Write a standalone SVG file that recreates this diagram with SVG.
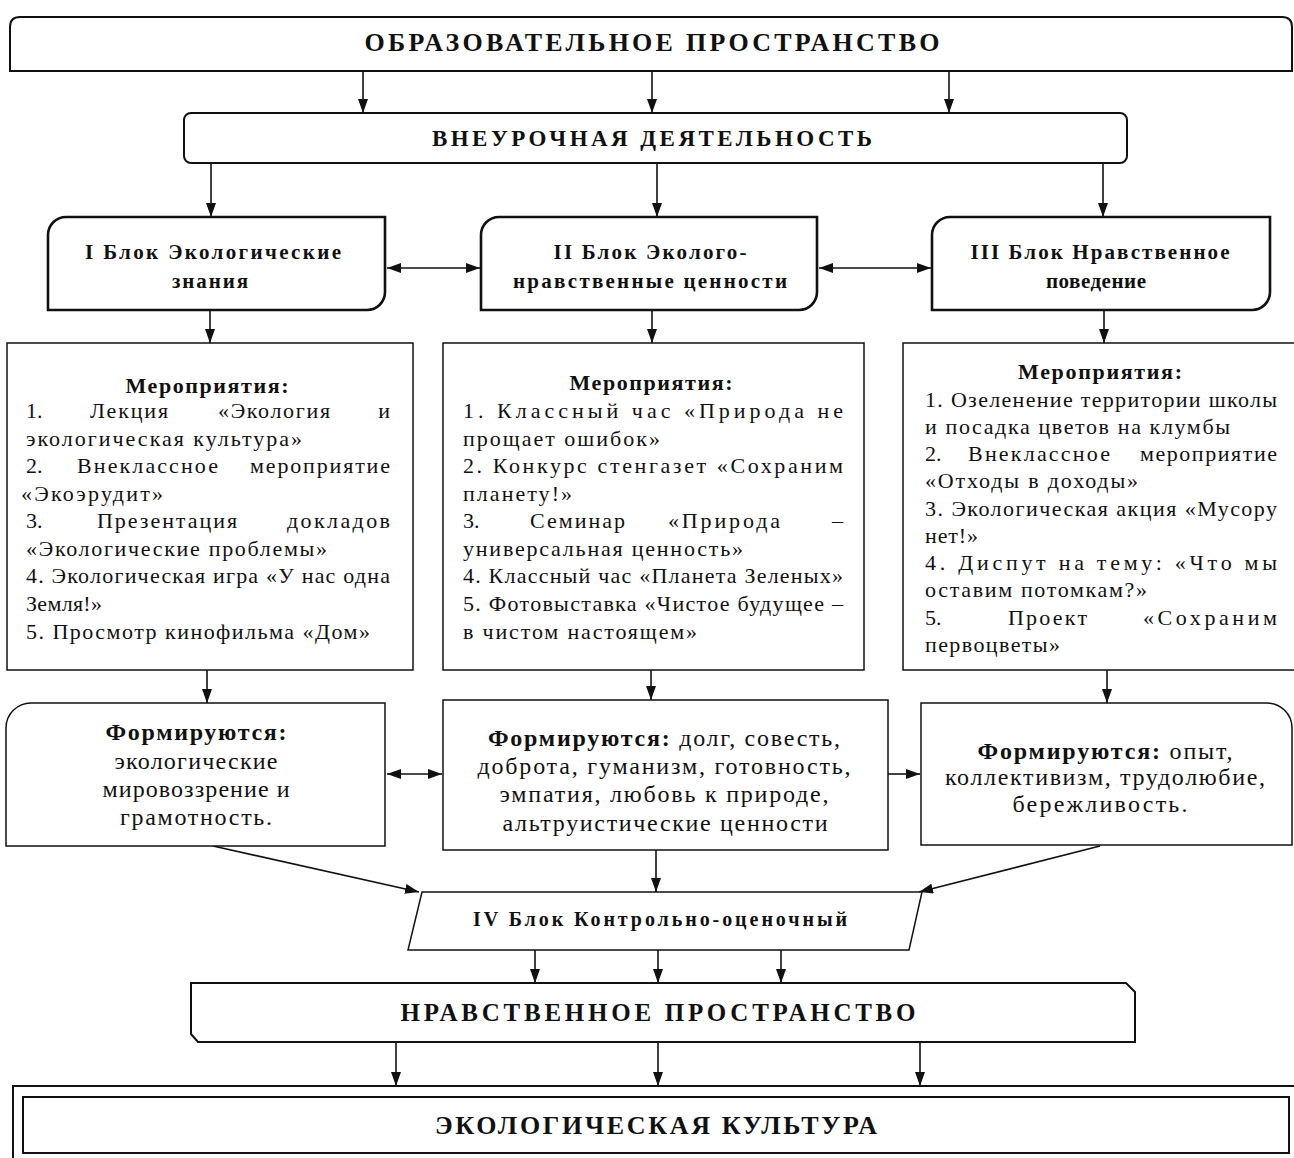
<svg xmlns="http://www.w3.org/2000/svg" width="1294" height="1158" viewBox="0 0 1294 1158">
<style>
  .bg{fill:#fff}
  .box{fill:#fff;stroke:#111;stroke-width:2}
  .thin{fill:#fff;stroke:#111;stroke-width:1.5}
  .thick{fill:#fff;stroke:#111;stroke-width:2.6}
  .con{fill:none;stroke:#111;stroke-width:1.6}
  .h{font-family:"Liberation Serif","Times New Roman",serif;font-weight:bold;fill:#111}
  .t{font-family:"Liberation Serif","Times New Roman",serif;fill:#111;font-size:22px}
  .tb{font-family:"Liberation Serif","Times New Roman",serif;fill:#111;font-size:22px;font-weight:bold}
  .f{font-family:"Liberation Serif","Times New Roman",serif;fill:#111;font-size:24px}
</style>
<defs>
  <marker id="ah" markerUnits="userSpaceOnUse" markerWidth="14" markerHeight="10" refX="14" refY="5" orient="auto-start-reverse">
    <path d="M0,0 L14,5 L0,10 Z" fill="#111"/>
  </marker>
</defs>
<rect class="bg" x="0" y="0" width="1294" height="1158"/>

<g id="connectors">
  <line class="con" x1="363" y1="71" x2="363" y2="113" marker-end="url(#ah)"/>
  <line class="con" x1="652" y1="71" x2="652" y2="113" marker-end="url(#ah)"/>
  <line class="con" x1="949" y1="71" x2="949" y2="113" marker-end="url(#ah)"/>
  <line class="con" x1="211" y1="163" x2="211" y2="217" marker-end="url(#ah)"/>
  <line class="con" x1="657" y1="163" x2="657" y2="217" marker-end="url(#ah)"/>
  <line class="con" x1="1103" y1="163" x2="1103" y2="217" marker-end="url(#ah)"/>
  <line class="con" x1="387" y1="268" x2="480" y2="268" marker-start="url(#ah)" marker-end="url(#ah)"/>
  <line class="con" x1="819" y1="268" x2="931" y2="268" marker-start="url(#ah)" marker-end="url(#ah)"/>
  <line class="con" x1="210" y1="311" x2="210" y2="343" marker-end="url(#ah)"/>
  <line class="con" x1="652" y1="311" x2="652" y2="343" marker-end="url(#ah)"/>
  <line class="con" x1="1104" y1="311" x2="1104" y2="343" marker-end="url(#ah)"/>
  <line class="con" x1="207" y1="670" x2="207" y2="703" marker-end="url(#ah)"/>
  <line class="con" x1="651" y1="670" x2="651" y2="700" marker-end="url(#ah)"/>
  <line class="con" x1="1107" y1="670" x2="1107" y2="703" marker-end="url(#ah)"/>
  <line class="con" x1="387" y1="774" x2="442" y2="774" marker-start="url(#ah)" marker-end="url(#ah)"/>
  <line class="con" x1="888" y1="774" x2="920" y2="774" marker-end="url(#ah)"/>
  <line class="con" x1="213" y1="846" x2="419" y2="892" marker-end="url(#ah)"/>
  <line class="con" x1="656" y1="850" x2="656" y2="892" marker-end="url(#ah)"/>
  <line class="con" x1="1100" y1="846" x2="919" y2="892" marker-end="url(#ah)"/>
  <line class="con" x1="535" y1="950" x2="535" y2="983" marker-end="url(#ah)"/>
  <line class="con" x1="658" y1="950" x2="658" y2="983" marker-end="url(#ah)"/>
  <line class="con" x1="781" y1="950" x2="781" y2="983" marker-end="url(#ah)"/>
  <line class="con" x1="396" y1="1042" x2="396" y2="1086" marker-end="url(#ah)"/>
  <line class="con" x1="658" y1="1042" x2="658" y2="1086" marker-end="url(#ah)"/>
  <line class="con" x1="920" y1="1042" x2="920" y2="1086" marker-end="url(#ah)"/>
</g>

<g id="obraz">
  <path class="box" d="M10,71 V27 Q10,17 20,17 H1282 Q1292,17 1292,27 V71 Z"/>
  <text class="h" x="652" y="51" font-size="26" text-anchor="middle" textLength="575" lengthAdjust="spacing">ОБРАЗОВАТЕЛЬНОЕ  ПРОСТРАНСТВО</text>
</g>

<g id="vneur">
  <rect class="box" x="184" y="113" width="943" height="50" rx="7"/>
  <text class="h" x="652" y="146" font-size="23" text-anchor="middle" textLength="440" lengthAdjust="spacing">ВНЕУРОЧНАЯ ДЕЯТЕЛЬНОСТЬ</text>
</g>

<g id="block1">
  <path class="thick" d="M48,310 V235 A18,18 0 0 1 66,217 H385 V292 A18,18 0 0 1 367,310 Z"/>
  <text class="h" x="213" y="259" font-size="21" text-anchor="middle" textLength="256" lengthAdjust="spacing">I Блок Экологические</text>
  <text class="h" x="210" y="288" font-size="21" text-anchor="middle" textLength="76" lengthAdjust="spacing">знания</text>
</g>
<g id="block2">
  <path class="thick" d="M481,310 V235 A18,18 0 0 1 499,217 H817 V292 A18,18 0 0 1 799,310 Z"/>
  <text class="h" x="650" y="259" font-size="21" text-anchor="middle" textLength="193" lengthAdjust="spacing">II Блок Эколого-</text>
  <text class="h" x="650" y="288" font-size="21" text-anchor="middle" textLength="274" lengthAdjust="spacing">нравственные ценности</text>
</g>
<g id="block3">
  <path class="thick" d="M932,310 V235 A18,18 0 0 1 950,217 H1270 V292 A18,18 0 0 1 1252,310 Z"/>
  <text class="h" x="1100" y="259" font-size="21" text-anchor="middle" textLength="259" lengthAdjust="spacing">III Блок Нравственное</text>
  <text class="h" x="1096" y="288" font-size="21" text-anchor="middle" textLength="100" lengthAdjust="spacing">поведение</text>
</g>

<g id="events1">
  <rect class="thin" x="7" y="343" width="406" height="327"/>
  <text class="tb" x="207" y="393" text-anchor="middle" textLength="163" lengthAdjust="spacing">Мероприятия:</text>
  <text class="t" x="26" y="418">1.</text>
  <text class="t" x="90" y="418" textLength="78" lengthAdjust="spacing">Лекция</text>
  <text class="t" x="218" y="418" textLength="112" lengthAdjust="spacing">«Экология</text>
  <text class="t" x="390" y="418" text-anchor="end">и</text>
  <text class="t" x="26" y="446" textLength="276" lengthAdjust="spacing">экологическая культура»</text>
  <text class="t" x="26" y="473">2.</text>
  <text class="t" x="77" y="473" textLength="141" lengthAdjust="spacing">Внеклассное</text>
  <text class="t" x="250" y="473" textLength="140" lengthAdjust="spacing">мероприятие</text>
  <text class="t" x="21" y="501" textLength="142" lengthAdjust="spacing">«Экоэрудит»</text>
  <text class="t" x="26" y="528">3.</text>
  <text class="t" x="97" y="528" textLength="140" lengthAdjust="spacing">Презентация</text>
  <text class="t" x="287" y="528" textLength="103" lengthAdjust="spacing">докладов</text>
  <text class="t" x="26" y="556" textLength="301" lengthAdjust="spacing">«Экологические проблемы»</text>
  <text class="t" x="26" y="583" textLength="364" lengthAdjust="spacing">4. Экологическая игра «У нас одна</text>
  <text class="t" x="26" y="611" textLength="76" lengthAdjust="spacing">Земля!»</text>
  <text class="t" x="26" y="639" textLength="344" lengthAdjust="spacing">5. Просмотр кинофильма «Дом»</text>
</g>

<g id="events2">
  <rect class="thin" x="443" y="343" width="421" height="327"/>
  <text class="tb" x="651" y="390" text-anchor="middle" textLength="163" lengthAdjust="spacing">Мероприятия:</text>
  <text class="t" x="463" y="418" textLength="380" lengthAdjust="spacing">1. Классный час «Природа не</text>
  <text class="t" x="463" y="446" textLength="197" lengthAdjust="spacing">прощает ошибок»</text>
  <text class="t" x="463" y="473" textLength="380" lengthAdjust="spacing">2. Конкурс стенгазет «Сохраним</text>
  <text class="t" x="463" y="501" textLength="109" lengthAdjust="spacing">планету!»</text>
  <text class="t" x="463" y="528">3.</text>
  <text class="t" x="530" y="528" textLength="95" lengthAdjust="spacing">Семинар</text>
  <text class="t" x="668" y="528" textLength="112" lengthAdjust="spacing">«Природа</text>
  <text class="t" x="843" y="528" text-anchor="end">–</text>
  <text class="t" x="463" y="556" textLength="280" lengthAdjust="spacing">универсальная ценность»</text>
  <text class="t" x="463" y="583" textLength="380" lengthAdjust="spacing">4. Классный час «Планета Зеленых»</text>
  <text class="t" x="463" y="611" textLength="380" lengthAdjust="spacing">5. Фотовыставка «Чистое будущее –</text>
  <text class="t" x="463" y="639" textLength="234" lengthAdjust="spacing">в чистом настоящем»</text>
</g>

<g id="events3">
  <rect class="thin" x="903" y="343" width="395" height="327"/>
  <text class="tb" x="1100" y="379" text-anchor="middle" textLength="164" lengthAdjust="spacing">Мероприятия:</text>
  <text class="t" x="925" y="407" textLength="352" lengthAdjust="spacing">1. Озеленение территории школы</text>
  <text class="t" x="925" y="434" textLength="305" lengthAdjust="spacing">и посадка цветов на клумбы</text>
  <text class="t" x="925" y="461">2.</text>
  <text class="t" x="968" y="461" textLength="142" lengthAdjust="spacing">Внеклассное</text>
  <text class="t" x="1140" y="461" textLength="137" lengthAdjust="spacing">мероприятие</text>
  <text class="t" x="925" y="488" textLength="213" lengthAdjust="spacing">«Отходы в доходы»</text>
  <text class="t" x="925" y="516" textLength="352" lengthAdjust="spacing">3. Экологическая акция «Мусору</text>
  <text class="t" x="925" y="543" textLength="53" lengthAdjust="spacing">нет!»</text>
  <text class="t" x="925" y="570" textLength="352" lengthAdjust="spacing">4. Диспут на тему: «Что мы</text>
  <text class="t" x="925" y="597" textLength="222" lengthAdjust="spacing">оставим потомкам?»</text>
  <text class="t" x="925" y="625">5.</text>
  <text class="t" x="1008" y="625" textLength="79" lengthAdjust="spacing">Проект</text>
  <text class="t" x="1143" y="625" textLength="134" lengthAdjust="spacing">«Сохраним</text>
  <text class="t" x="925" y="652" textLength="135" lengthAdjust="spacing">первоцветы»</text>
</g>

<g id="form1">
  <path class="thin" d="M6,846 V728 A25,25 0 0 1 31,703 H385 V846 Z"/>
  <text class="f" x="196" y="740" text-anchor="middle" font-weight="bold" textLength="181" lengthAdjust="spacing">Формируются:</text>
  <text class="f" x="196" y="769" text-anchor="middle" textLength="163" lengthAdjust="spacing">экологические</text>
  <text class="f" x="196" y="797" text-anchor="middle" textLength="187" lengthAdjust="spacing">мировоззрение и</text>
  <text class="f" x="196" y="825" text-anchor="middle" textLength="152" lengthAdjust="spacing">грамотность.</text>
</g>

<g id="form2">
  <rect class="thin" x="443" y="700" width="445" height="150"/>
  <text class="f" x="664" y="746" text-anchor="middle" textLength="352" lengthAdjust="spacing"><tspan font-weight="bold">Формируются:</tspan> долг, совесть,</text>
  <text class="f" x="664" y="774" text-anchor="middle" textLength="373" lengthAdjust="spacing">доброта, гуманизм, готовность,</text>
  <text class="f" x="664" y="802" text-anchor="middle" textLength="329" lengthAdjust="spacing">эмпатия, любовь к природе,</text>
  <text class="f" x="665" y="831" text-anchor="middle" textLength="325" lengthAdjust="spacing">альтруистические ценности</text>
</g>

<g id="form3">
  <path class="thin" d="M921,845 V703 H1267 A25,25 0 0 1 1292,728 V845 Z"/>
  <text class="f" x="1105" y="759" text-anchor="middle" textLength="255" lengthAdjust="spacing"><tspan font-weight="bold">Формируются:</tspan> опыт,</text>
  <text class="f" x="1105" y="785" text-anchor="middle" textLength="320" lengthAdjust="spacing">коллективизм, трудолюбие,</text>
  <text class="f" x="1100" y="812" text-anchor="middle" textLength="175" lengthAdjust="spacing">бережливость.</text>
</g>

<g id="block4">
  <path class="thin" d="M422,892 H922 L909,950 H408 Z"/>
  <text class="h" x="660" y="926" font-size="20" text-anchor="middle" textLength="374" lengthAdjust="spacing">IV Блок Контрольно-оценочный</text>
</g>

<g id="nravstv">
  <path class="box" d="M191,983 H1126 L1135,992 V1042 H198 L191,1034 Z"/>
  <text class="h" x="658" y="1021" font-size="25" text-anchor="middle" textLength="515" lengthAdjust="spacing">НРАВСТВЕННОЕ  ПРОСТРАНСТВО</text>
</g>

<g id="ekokult">
  <rect class="box" x="13" y="1086" width="1300" height="90"/>
  <rect class="box" x="23" y="1097" width="1266" height="56"/>
  <text class="h" x="656" y="1134" font-size="26" text-anchor="middle" textLength="442" lengthAdjust="spacing">ЭКОЛОГИЧЕСКАЯ КУЛЬТУРА</text>
</g>
</svg>
